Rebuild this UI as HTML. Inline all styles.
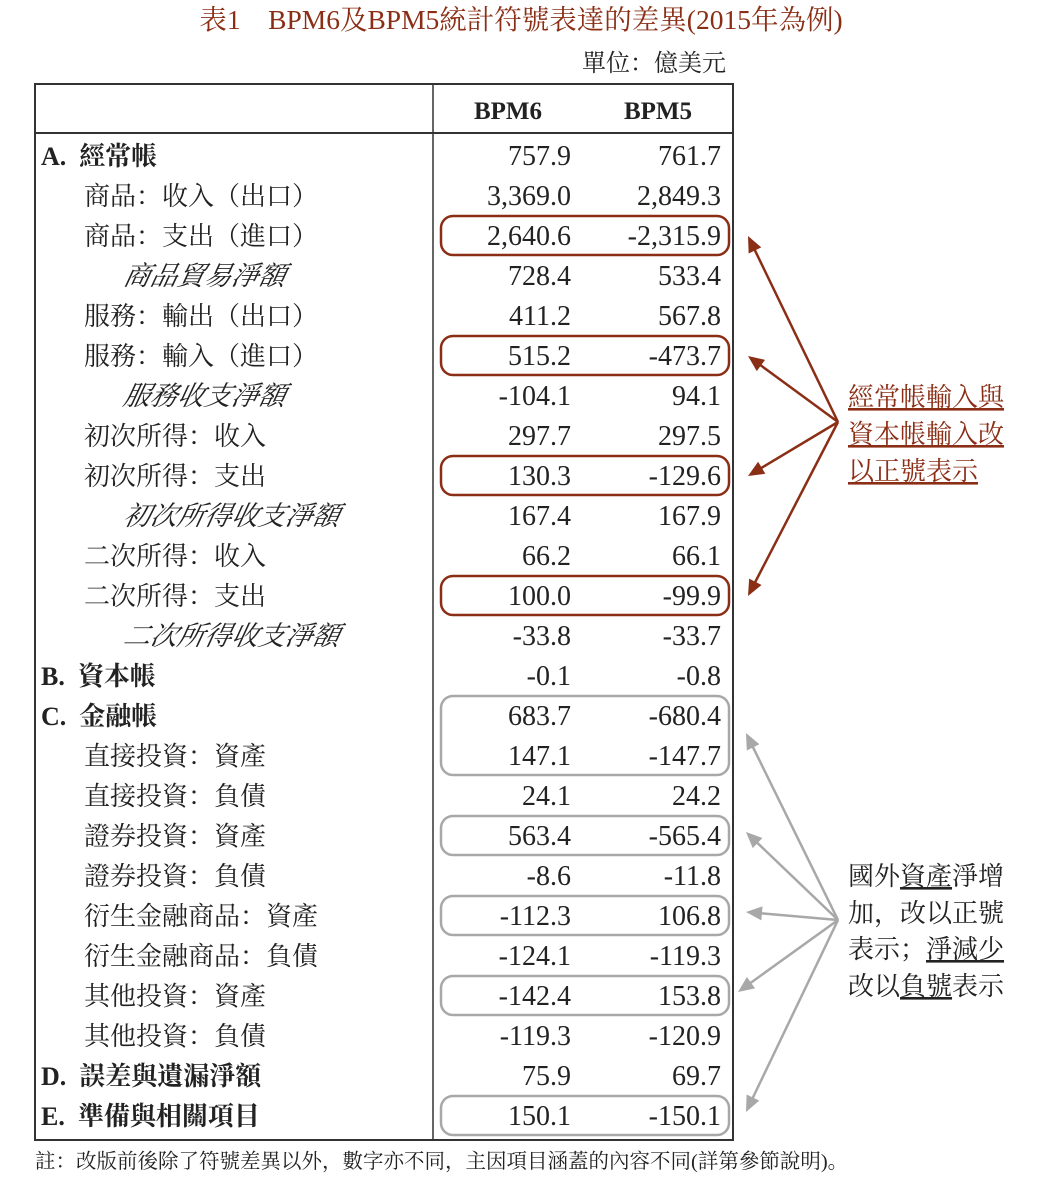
<!DOCTYPE html>
<html><head><meta charset="utf-8"><style>
body{margin:0;background:#fff;}
svg{display:block;font-family:"Liberation Serif","Noto Serif CJK SC",serif;}
</style></head><body>
<svg id="c" width="1058" height="1180" viewBox="0 0 1058 1180">
<text x="521" y="29" text-anchor="middle" font-size="27.5" fill="#8B2E16">表1　BPM6及BPM5統計符號表達的差異(2015年為例)</text>
<text x="726" y="71" text-anchor="end" font-size="24" fill="#222">單位：億美元</text>
<rect x="35" y="84" width="698" height="1056" fill="none" stroke="#333" stroke-width="2"/>
<line x1="35" y1="133" x2="733" y2="133" stroke="#333" stroke-width="2"/>
<line x1="433" y1="84" x2="433" y2="1140" stroke="#333" stroke-width="1.5"/>
<text x="508" y="119" text-anchor="middle" font-size="25" font-weight="bold" fill="#222">BPM6</text>
<text x="658" y="119" text-anchor="middle" font-size="25" font-weight="bold" fill="#222">BPM5</text>
<g id="rows"></g>
<g id="marks"></g>
<g font-size="26" fill="#8B2E16" text-decoration="underline">
<text x="848" y="406">經常帳輸入與</text>
<text x="848" y="443">資本帳輸入改</text>
<text x="848" y="480">以正號表示</text>
</g>
<g font-size="26" fill="#222">
<text x="848" y="885">國外<tspan text-decoration="underline">資產</tspan>淨增</text>
<text x="848" y="922">加，改以正號</text>
<text x="848" y="958">表示；<tspan text-decoration="underline">淨減少</tspan></text>
<text x="848" y="995">改以<tspan text-decoration="underline">負號</tspan>表示</text>
</g>
<text x="35" y="1168" font-size="20.5" fill="#222">註：改版前後除了符號差異以外，數字亦不同，主因項目涵蓋的內容不同(詳第參節說明)。</text>
</svg>
<script>
const labels=["A.\u00a0\u00a0經常帳","商品：收入（出口）","商品：支出（進口）","商品貿易淨額","服務：輸出（出口）","服務：輸入（進口）","服務收支淨額","初次所得：收入","初次所得：支出","初次所得收支淨額","二次所得：收入","二次所得：支出","二次所得收支淨額","B.\u00a0\u00a0資本帳","C.\u00a0\u00a0金融帳","直接投資：資產","直接投資：負債","證券投資：資產","證券投資：負債","衍生金融商品：資產","衍生金融商品：負債","其他投資：資產","其他投資：負債","D.\u00a0\u00a0誤差與遺漏淨額","E.\u00a0\u00a0準備與相關項目"];
const styles=["h","i","i","n","i","i","n","i","i","n","i","i","n","h","h","i","i","i","i","i","i","i","i","h","h"];
const bpm6=["757.9","3,369.0","2,640.6","728.4","411.2","515.2","-104.1","297.7","130.3","167.4","66.2","100.0","-33.8","-0.1","683.7","147.1","24.1","563.4","-8.6","-112.3","-124.1","-142.4","-119.3","75.9","150.1"];
const bpm5=["761.7","2,849.3","-2,315.9","533.4","567.8","-473.7","94.1","297.5","-129.6","167.9","66.1","-99.9","-33.7","-0.8","-680.4","-147.7","24.2","-565.4","-11.8","106.8","-119.3","153.8","-120.9","69.7","-150.1"];
const redBoxes=[[2,2],[5,5],[8,8],[11,11]];
const grayBoxes=[[14,15],[17,17],[19,19],[21,21],[24,24]];
const redTargets=[2,5,8,11];
const grayTargets=[15,17,19,21,24];
const NS="http://www.w3.org/2000/svg";
const rowY=i=>156+40*i;
const rows=document.getElementById('rows'),marks=document.getElementById('marks');
function t(parent,x,y,s,anchor,extra){const e=document.createElementNS(NS,'text');e.setAttribute('x',x);e.setAttribute('y',y);e.setAttribute('text-anchor',anchor);e.setAttribute('font-size',extra.fs||26);e.setAttribute('fill','#222');if(extra.b)e.setAttribute('font-weight','bold');if(extra.it)e.setAttribute('font-style','italic');e.textContent=s;parent.appendChild(e);return e;}
labels.forEach((l,i)=>{const y=rowY(i)+9;const st=styles[i];
 let e;
 if(st==='h'){e=t(rows,41,y,l,'start',{b:1,fs:26});}
 else if(st==='i'){e=t(rows,84,y,l,'start',{fs:26});}
 else {e=t(rows,122,y,l,'start',{it:1,fs:27});e.setAttribute('transform','skewX(-12)');e.setAttribute('x',122+y*Math.tan(12*Math.PI/180));}
 
 
 let a=t(rows,571,y,bpm6[i],'end',{fs:28});
 
 
 let b=t(rows,721,y,bpm5[i],'end',{fs:28});
 
 
});
function box(r,color){const r0=rowY(r[0])-20,r1=rowY(r[1])+19;const e=document.createElementNS(NS,'rect');e.setAttribute('x',441);e.setAttribute('y',r0);e.setAttribute('width',288);e.setAttribute('height',r1-r0);e.setAttribute('rx',12);e.setAttribute('fill','none');e.setAttribute('stroke',color);e.setAttribute('stroke-width',2.5);marks.appendChild(e);return e;}
redBoxes.forEach(r=>{const e=box(r,'#8B2E16');
 
 });
grayBoxes.forEach(r=>{const e=box(r,'#a8a8a8');
 
 });
function arrow(x1,y1,x2,y2,color){const g=document.createElementNS(NS,'g');const l=document.createElementNS(NS,'line');
 const dx=x2-x1,dy=y2-y1,len=Math.hypot(dx,dy),ux=dx/len,uy=dy/len;
 l.setAttribute('x1',x1);l.setAttribute('y1',y1);l.setAttribute('x2',x2-ux*10);l.setAttribute('y2',y2-uy*10);l.setAttribute('stroke',color);l.setAttribute('stroke-width',2.5);g.appendChild(l);
 const p=document.createElementNS(NS,'polygon');const bx=x2-ux*16,by=y2-uy*16;
 p.setAttribute('points',`${x2},${y2} ${bx-uy*7},${by+ux*7} ${bx+uy*7},${by-ux*7}`);p.setAttribute('fill',color);g.appendChild(p);marks.appendChild(g);return g;}
redTargets.forEach(r=>{const y=rowY(r);const g=arrow(838,422,748,y,'#8B2E16');
 
 });
grayTargets.forEach(r=>{const y=r===15?rowY(r)-23:rowY(r)-4;const g=arrow(838,920,r===21?738:746,y,'#a8a8a8');
 
 });
</script>
</body></html>
